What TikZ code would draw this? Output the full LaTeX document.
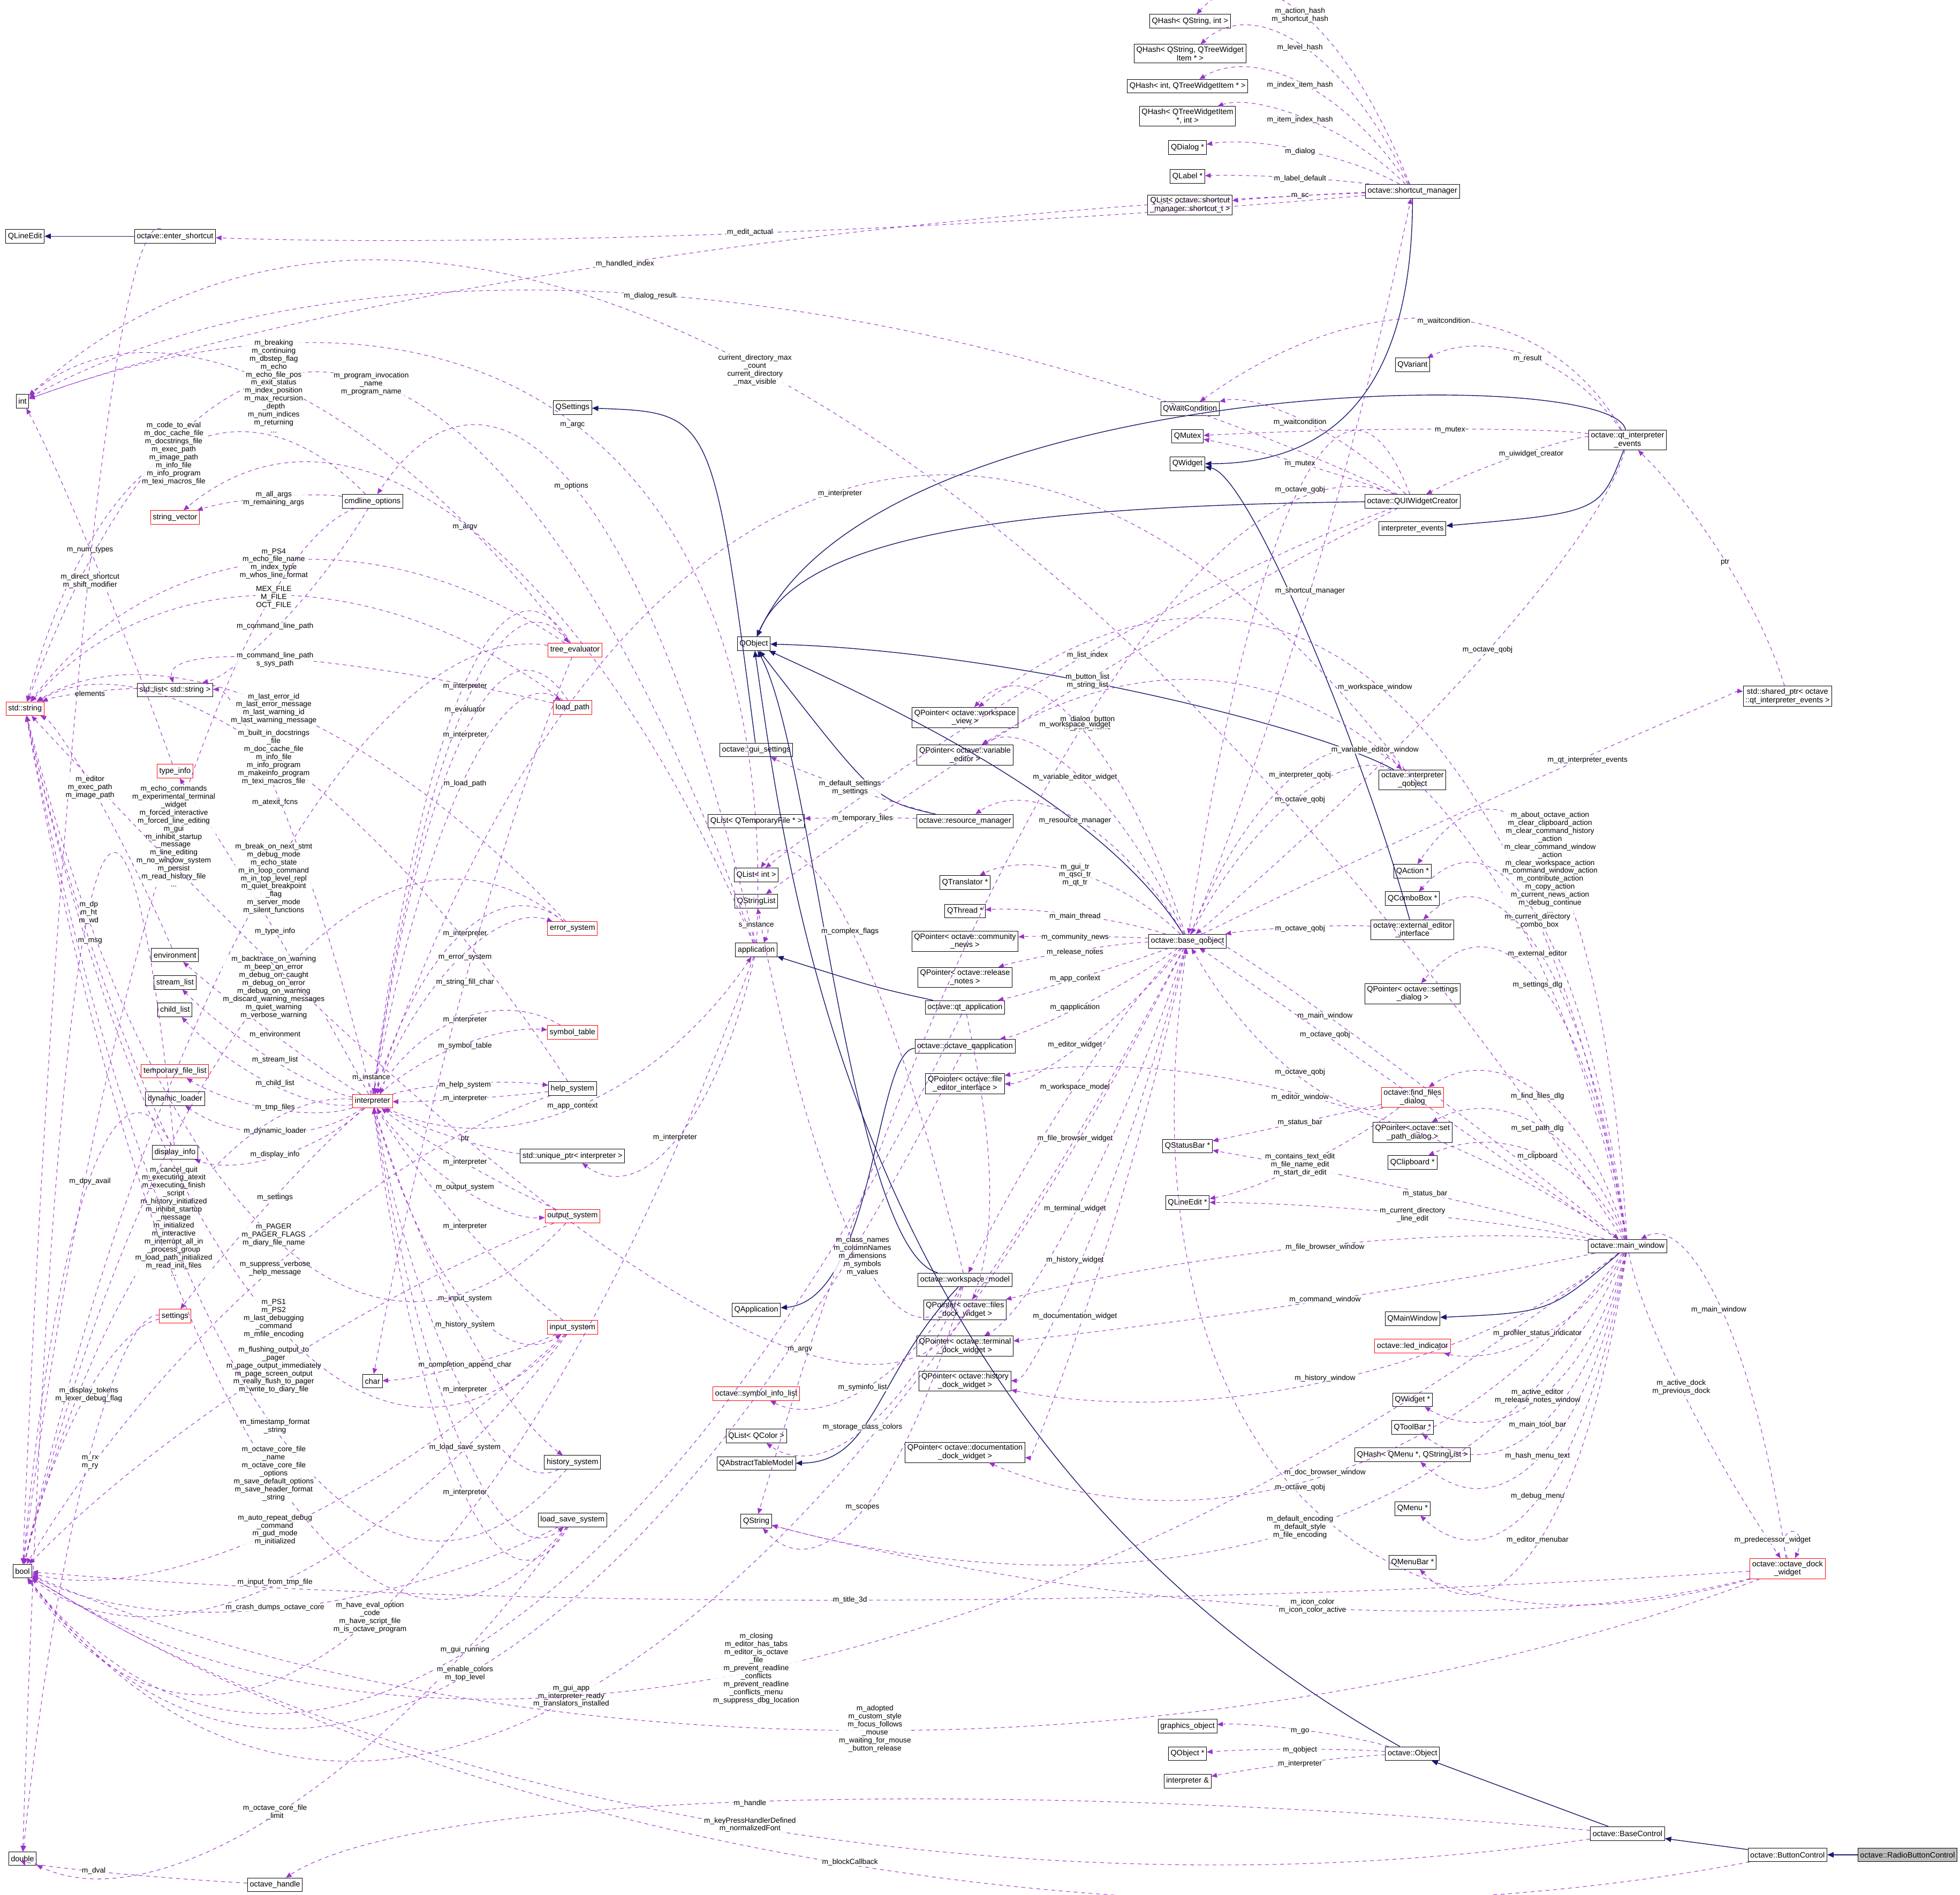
\documentclass[tikz,border=0pt]{standalone}
\usepackage{fontspec}
\setmainfont{Liberation Sans}
\usetikzlibrary{calc,arrows.meta}
\definecolor{navy}{HTML}{191970}
\definecolor{purp}{HTML}{9A32CD}
\tikzset{
 box/.style={draw=black,fill=white,font=\fontsize{6.2}{6.8}\selectfont,inner sep=1.8pt,minimum height=11pt,align=center},
 rbox/.style={box,draw=red},
 lbl/.style={font=\fontsize{5.9}{6.4}\selectfont,align=center,inner sep=0.3pt,fill=white,fill opacity=0.85,text opacity=1},
 dep/.style={draw=purp,dashed,line width=0.45pt,-{Triangle[length=4.5pt,width=3.8pt]},fill=none},
 inh/.style={draw=navy,line width=0.6pt,-{Triangle[length=5pt,width=4.2pt]}}
}
\newcommand\dep[4]{\draw[dep] (#1) .. controls ($1.3333*(#3)+0.0333*(#1)-0.3667*(#2)$) and ($1.3333*(#3)-0.3667*(#1)+0.0333*(#2)$) .. (#2); \node[lbl] at (#3) {#4};}
\begin{document}
\catcode`\_=12
\begin{tikzpicture}[x=1pt,y=-1pt]
\fill[white] (0,0) rectangle (1568,1516);
\useasboundingbox (0,0) rectangle (1568,1516);
% nodes
\node[box] (qhA) at (952,17) {QHash< QString, int >};
\node[box] (qhB) at (952,43) {QHash< QString, QTreeWidget\\Item * >};
\node[box] (qhC) at (950,69) {QHash< int, QTreeWidgetItem * >};
\node[box] (qhD) at (950,93) {QHash< QTreeWidgetItem\\*, int >};
\node[box] (qdlg) at (950,118) {QDialog *};
\node[box] (qlbl) at (950,141) {QLabel *};
\node[box] (qlsc) at (952,164) {QList< octave::shortcut\\_manager::shortcut_t >};
\node[box] (sm) at (1130,153) {octave::shortcut_manager};
\node[box] (qle) at (20,189) {QLineEdit};
\node[box] (es) at (140,189) {octave::enter_shortcut};
\node[box] (int) at (18,321) {int};
\node[box] (qset) at (458,326) {QSettings};
\node[box] (qvar) at (1130,292) {QVariant};
\node[box] (qwc) at (952,327) {QWaitCondition};
\node[box] (qmtx) at (950,349) {QMutex};
\node[box] (qwdg) at (950,371) {QWidget};
\node[box] (qie) at (1302,352) {octave::qt_interpreter\\_events};
\node[box] (quic) at (1130,401) {octave::QUIWidgetCreator};
\node[box] (ie) at (1130,423) {interpreter_events};
\node[box] (cmd) at (298,401) {cmdline_options};
\node[rbox] (sv) at (140,414) {string_vector};
\node[rbox] (te) at (460,520) {tree_evaluator};
\node[box] (qobj) at (603,515) {QObject};
\node[box] (lstr) at (140,552) {std::list< std::string >};
\node[rbox] (lp) at (458,566) {load_path};
\node[rbox] (str) at (20,567) {std::string};
\node[rbox] (ti) at (140,617) {type_info};
\node[box] (pws) at (772,574) {QPointer< octave::workspace\\_view >};
\node[box] (pve) at (772,604) {QPointer< octave::variable\\_editor >};
\node[box] (gs) at (605,600) {octave::gui_settings};
\node[box] (sp) at (1430,557) {std::shared_ptr< octave\\::qt_interpreter_events >};
\node[box] (iq) at (1130,624) {octave::interpreter\\_qobject};
\node[box] (qltf) at (605,657) {QList< QTemporaryFile * >};
\node[box] (rm) at (772,657) {octave::resource_manager};
\node[box] (qli) at (605,700) {QList< int >};
\node[box] (qact) at (1130,697) {QAction *};
\node[box] (qtr) at (772,706) {QTranslator *};
\node[box] (qsl) at (605,721) {QStringList};
\node[box] (qcb) at (1130,719) {QComboBox *};
\node[box] (qth) at (772,729) {QThread *};
\node[box] (eei) at (1130,744) {octave::external_editor\\_interface};
\node[box] (bq) at (950,753) {octave::base_qobject};
\node[box] (pcn) at (772,753) {QPointer< octave::community\\_news >};
\node[box] (app) at (605,760) {application};
\node[rbox] (errs) at (458,743) {error_system};
\node[box] (env) at (140,764) {environment};
\node[box] (prn) at (772,782) {QPointer< octave::release\\_notes >};
\node[box] (qta) at (772,806) {octave::qt_application};
\node[box] (psd) at (1130,795) {QPointer< octave::settings\\_dialog >};
\node[box] (sl) at (140,786) {stream_list};
\node[box] (cl) at (140,808) {child_list};
\node[rbox] (symt) at (458,826) {symbol_table};
\node[box] (oqa) at (772,837) {octave::octave_qapplication};
\node[rbox] (tfl) at (140,857) {temporary_file_list};
\node[box] (hs) at (458,871) {help_system};
\node[rbox] (interp) at (298,881) {interpreter};
\node[box] (pfe) at (772,867) {QPointer< octave::file\\_editor_interface >};
\node[rbox] (ffd) at (1130,878) {octave::find_files\\_dialog};
\node[box] (dl) at (140,879) {dynamic_loader};
\node[box] (pspd) at (1130,906) {QPointer< octave::set\\_path_dialog >};
\node[box] (up) at (458,925) {std::unique_ptr< interpreter >};
\node[box] (di) at (140,922) {display_info};
\node[box] (qcl) at (1130,930) {QClipboard *};
\node[box] (qsb) at (950,917) {QStatusBar *};
\node[rbox] (os) at (458,973) {output_system};
\node[box] (qlep) at (950,962) {QLineEdit *};
\node[box] (mw) at (1302,997) {octave::main_window};
\node[rbox] (sett) at (140,1053) {settings};
\node[box] (qapp) at (605,1048) {QApplication};
\node[box] (wm) at (772,1024) {octave::workspace_model};
\node[box] (pfd) at (772,1048) {QPointer< octave::files\\_dock_widget >};
\node[box] (qmw) at (1130,1055) {QMainWindow};
\node[rbox] (ins) at (458,1062) {input_system};
\node[box] (ptd) at (772,1077) {QPointer< octave::terminal\\_dock_widget >};
\node[rbox] (led) at (1130,1077) {octave::led_indicator};
\node[box] (chr) at (298,1105) {char};
\node[box] (phd) at (772,1105) {QPointer< octave::history\\_dock_widget >};
\node[rbox] (sil) at (605,1115) {octave::symbol_info_list};
\node[box] (qwp) at (1130,1120) {QWidget *};
\node[box] (qlc) at (605,1149) {QList< QColor >};
\node[box] (qtb) at (1130,1142) {QToolBar *};
\node[box] (hsys) at (458,1170) {history_system};
\node[box] (qatm) at (605,1171) {QAbstractTableModel};
\node[box] (qhm) at (1130,1164) {QHash< QMenu *, QStringList >};
\node[box] (pdd) at (772,1162) {QPointer< octave::documentation\\_dock_widget >};
\node[box] (qmenu) at (1130,1207) {QMenu *};
\node[box] (lss) at (458,1216) {load_save_system};
\node[box] (qstr) at (605,1217) {QString};
\node[box] (bool) at (18,1257) {bool};
\node[box] (qmb) at (1130,1250) {QMenuBar *};
\node[rbox] (odw) at (1430,1255) {octave::octave_dock\\_widget};
\node[box] (gobj) at (950,1381) {graphics_object};
\node[box] (qobjp) at (950,1403) {QObject *};
\node[box] (obj) at (1130,1403) {octave::Object};
\node[box] (iref) at (950,1425) {interpreter \&};
\node[box] (bc) at (1302,1467) {octave::BaseControl};
\node[box] (dbl) at (18,1487) {double};
\node[box] (btc) at (1430,1484) {octave::ButtonControl};
\node[box,fill=black!25] (rbc) at (1526,1484) {octave::RadioButtonControl};
\node[box] (oh) at (220,1508) {octave_handle};
% inheritance
\draw[inh] (es) -- (qle);
\draw[inh] (sm) .. controls (1130,330) and (1050,371) .. (qwdg);
\draw[inh] (qie) .. controls (1290,290) and (700,300) .. (qobj);
\draw[inh] (qie) .. controls (1280,410) .. (ie);
\draw[inh] (quic) .. controls (800,405) and (640,430) .. (qobj);
\draw[inh] (gs) .. controls (570,330) .. (qset);
\draw[inh] (rm) .. controls (700,640) .. (qobj);
\draw[inh] (bq) .. controls (880,640) and (700,560) .. (qobj);
\draw[inh] (eei) .. controls (1090,600) and (1000,380) .. (qwdg);
\draw[inh] (iq) .. controls (1050,580) and (800,520) .. (qobj);
\draw[inh] (qta) .. controls (700,790) .. (app);
\draw[inh] (oqa) .. controls (700,840) and (700,1040) .. (qapp);
\draw[inh] (wm) .. controls (680,1000) and (650,600) .. (qobj);
\draw[inh] (wm) .. controls (700,1100) and (700,1170) .. (qatm);
\draw[inh] (mw) .. controls (1240,1050) .. (qmw);
\draw[inh] (obj) .. controls (680,1150) and (630,700) .. (qobj);
\draw[inh] (bc) -- (obj);
\draw[inh] (btc) -- (bc);
\draw[inh] (rbc) -- (btc);
% shortcut_manager
\dep{sm}{qhA}{1040,12}{m_action_hash\\m_shortcut_hash}
\dep{sm}{qhB}{1040,38}{m_level_hash}
\dep{sm}{qhC}{1040,68}{m_index_item_hash}
\dep{sm}{qhD}{1040,96}{m_item_index_hash}
\dep{sm}{qdlg}{1040,121}{m_dialog}
\dep{sm}{qlbl}{1040,143}{m_label_default}
\dep{sm}{qlsc}{1040,157}{m_sc}
\dep{sm}{es}{600,186}{m_edit_actual}
\dep{sm}{int}{500,211}{m_handled_index}
% QUIWidgetCreator, qt_interpreter_events
\dep{quic}{int}{520,237}{m_dialog_result}
\dep{quic}{qwc}{1040,338}{m_waitcondition}
\dep{quic}{qmtx}{1040,371}{m_mutex}
\dep{quic}{bq}{1040,392}{m_octave_qobj}
\dep{quic}{qli}{870,524}{m_list_index}
\dep{quic}{qsl}{870,545}{m_button_list\\m_string_list}
\dep{quic}{qstr}{870,579}{m_dialog_button\\m_path_name}
\dep{qie}{qwc}{1155,257}{m_waitcondition}
\dep{qie}{qvar}{1222,287}{m_result}
\dep{qie}{qmtx}{1160,344}{m_mutex}
\dep{qie}{quic}{1225,363}{m_uiwidget_creator}
\dep{qie}{bq}{1190,520}{m_octave_qobj}
\dep{sp}{qie}{1380,450}{ptr}
\dep{bq}{sp}{1270,608}{m_qt_interpreter_events}
\dep{bq}{sm}{1048,473}{m_shortcut_manager}
% interpreter_qobject
\dep{iq}{bq}{1040,640}{m_octave_qobj}
\dep{bq}{iq}{1040,620}{m_interpreter_qobj}
\dep{iq}{interp}{672,395}{m_interpreter}
% base_qobject
\dep{bq}{pws}{860,580}{m_workspace_widget}
\dep{bq}{pve}{860,622}{m_variable_editor_widget}
\dep{bq}{rm}{860,657}{m_resource_manager}
\dep{bq}{qtr}{860,700}{m_gui_tr\\m_qsci_tr\\m_qt_tr}
\dep{bq}{qth}{860,733}{m_main_thread}
\dep{bq}{pcn}{860,750}{m_community_news}
\dep{bq}{prn}{860,762}{m_release_notes}
\dep{bq}{qta}{860,783}{m_app_context}
\dep{bq}{oqa}{860,806}{m_qapplication}
\dep{bq}{pfe}{860,836}{m_editor_widget}
\dep{bq}{wm}{860,870}{m_workspace_model}
\dep{bq}{pfd}{860,911}{m_file_browser_widget}
\dep{bq}{ptd}{860,967}{m_terminal_widget}
\dep{bq}{phd}{860,1008}{m_history_widget}
\dep{bq}{pdd}{860,1053}{m_documentation_widget}
\dep{bq}{mw}{1060,813}{m_main_window}
\dep{mw}{bq}{1060,828}{m_octave_qobj}
\dep{eei}{bq}{1040,743}{m_octave_qobj}
\dep{ffd}{bq}{1040,858}{m_octave_qobj}
\dep{odw}{bq}{1040,1190}{m_octave_qobj}
\dep{bq}{bool}{457,1357}{m_gui_app\\m_interpreter_ready\\m_translators_installed}
% resource_manager, workspace_model
\dep{rm}{gs}{680,630}{m_default_settings\\m_settings}
\dep{rm}{qltf}{690,655}{m_temporary_files}
\dep{wm}{qli}{680,745}{m_complex_flags}
\dep{wm}{qsl}{690,1005}{m_class_names\\m_columnNames\\m_dimensions\\m_symbols\\m_values}
\dep{wm}{sil}{690,1110}{m_syminfo_list}
\dep{wm}{qlc}{690,1142}{m_storage_class_colors}
\dep{wm}{qstr}{690,1206}{m_scopes}
% main_window
\dep{mw}{pws}{1100,550}{m_workspace_window}
\dep{mw}{pve}{1100,600}{m_variable_editor_window}
\dep{mw}{qact}{1240,690}{m_about_octave_action\\m_clear_clipboard_action\\m_clear_command_history\\_action\\m_clear_command_window\\_action\\m_clear_workspace_action\\m_command_window_action\\m_contribute_action\\m_copy_action\\m_current_news_action\\m_debug_continue\\...}
\dep{mw}{qcb}{1230,737}{m_current_directory\\_combo_box}
\dep{mw}{eei}{1230,763}{m_external_editor}
\dep{mw}{psd}{1230,788}{m_settings_dlg}
\dep{mw}{ffd}{1230,877}{m_find_files_dlg}
\dep{mw}{pspd}{1230,903}{m_set_path_dlg}
\dep{mw}{qcl}{1230,925}{m_clipboard}
\dep{mw}{qsb}{1140,955}{m_status_bar}
\dep{mw}{qlep}{1130,972}{m_current_directory\\_line_edit}
\dep{mw}{pfd}{1060,998}{m_file_browser_window}
\dep{mw}{ptd}{1060,1040}{m_command_window}
\dep{mw}{led}{1230,1067}{m_profiler_status_indicator}
\dep{mw}{phd}{1060,1103}{m_history_window}
\dep{mw}{qwp}{1230,1117}{m_active_editor\\m_release_notes_window}
\dep{mw}{qtb}{1230,1140}{m_main_tool_bar}
\dep{mw}{qhm}{1230,1165}{m_hash_menu_text}
\dep{mw}{pdd}{1060,1178}{m_doc_browser_window}
\dep{mw}{qmenu}{1230,1197}{m_debug_menu}
\dep{mw}{qstr}{1040,1222}{m_default_encoding\\m_default_style\\m_file_encoding}
\dep{mw}{qmb}{1230,1232}{m_editor_menubar}
\dep{mw}{pfe}{1040,878}{m_editor_window}
\dep{mw}{int}{604,296}{current_directory_max\\_count\\current_directory\\_max_visible}
\dep{mw}{bool}{605,1335}{m_closing\\m_editor_has_tabs\\m_editor_is_octave\\_file\\m_prevent_readline\\_conflicts\\m_prevent_readline\\_conflicts_menu\\m_suppress_dbg_location}
\dep{mw}{odw}{1345,1110}{m_active_dock\\m_previous_dock}
\dep{ffd}{qsb}{1040,898}{m_status_bar}
\dep{ffd}{qlep}{1040,932}{m_contains_text_edit\\m_file_name_edit\\m_start_dir_edit}
\dep{odw}{mw}{1375,1048}{m_main_window}
\draw[dep] (odw.north) .. controls +(-12,-28) and +(12,-28) .. ([xshift=6pt]odw.north);
\node[lbl] at (1418,1232) {m_predecessor_widget};
\dep{odw}{qstr}{1050,1285}{m_icon_color\\m_icon_color_active}
\dep{odw}{bool}{680,1280}{m_title_3d}
\dep{odw}{bool}{700,1383}{m_adopted\\m_custom_style\\m_focus_follows\\_mouse\\m_waiting_for_mouse\\_button_release}
% Object, controls
\dep{obj}{gobj}{1040,1385}{m_go}
\dep{obj}{qobjp}{1040,1400}{m_qobject}
\dep{obj}{iref}{1040,1411}{m_interpreter}
\dep{bc}{oh}{600,1443}{m_handle}
\dep{bc}{bool}{600,1460}{m_keyPressHandlerDefined\\m_normalizedFont}
\dep{btc}{bool}{680,1490}{m_blockCallback}
\dep{oh}{dbl}{75,1497}{m_dval}
% interpreter subsystems
\dep{te}{interp}{372,549}{m_interpreter}
\dep{interp}{te}{372,568}{m_evaluator}
\dep{lp}{interp}{372,588}{m_interpreter}
\dep{interp}{lp}{372,627}{m_load_path}
\dep{errs}{interp}{372,747}{m_interpreter}
\dep{interp}{errs}{372,766}{m_error_system}
\dep{te}{chr}{372,786}{m_string_fill_char}
\dep{symt}{interp}{372,816}{m_interpreter}
\dep{interp}{symt}{372,837}{m_symbol_table}
\dep{interp}{hs}{372,868}{m_help_system}
\dep{hs}{interp}{372,879}{m_interpreter}
\dep{up}{interp}{372,911}{ptr}
\dep{os}{interp}{372,930}{m_interpreter}
\dep{interp}{os}{372,950}{m_output_system}
\dep{ins}{interp}{372,981}{m_interpreter}
\dep{interp}{ins}{372,1039}{m_input_system}
\dep{interp}{hsys}{372,1060}{m_history_system}
\dep{ins}{chr}{372,1092}{m_completion_append_char}
\dep{hsys}{interp}{372,1112}{m_interpreter}
\dep{interp}{lss}{372,1158}{m_load_save_system}
\dep{lss}{interp}{372,1194}{m_interpreter}
\dep{app}{cmd}{457,389}{m_options}
\dep{app}{sv}{372,422}{m_argv}
\dep{app}{int}{458,340}{m_argc}
\dep{app}{str}{297,307}{m_program_invocation\\_name\\m_program_name}
\dep{app}{up}{540,910}{m_interpreter}
\dep{interp}{app}{458,885}{m_app_context}
\dep{app}{bool}{296,1294}{m_have_eval_option\\_code\\m_have_script_file\\m_is_octave_program}
\draw[dep] (app.north) .. controls +(-10,-22) and +(10,-22) .. ([xshift=6pt]app.north);
\node[lbl] at (605,740) {s_instance};
\draw[dep] (interp.north) .. controls +(-10,-22) and +(10,-22) .. ([xshift=6pt]interp.north);
\node[lbl] at (297,862) {m_instance};
\dep{interp}{env}{220,828}{m_environment}
\dep{interp}{sl}{220,848}{m_stream_list}
\dep{interp}{cl}{220,867}{m_child_list}
\dep{interp}{tfl}{220,886}{m_tmp_files}
\dep{interp}{dl}{220,905}{m_dynamic_loader}
\dep{interp}{di}{220,924}{m_display_info}
\dep{interp}{sett}{220,958}{m_settings}
\dep{interp}{lstr}{220,642}{m_atexit_fcns}
\dep{interp}{ti}{220,745}{m_type_info}
\dep{interp}{bool}{139,977}{m_cancel_quit\\m_executing_atexit\\m_executing_finish\\_script\\m_history_initialized\\m_inhibit_startup\\_message\\m_initialized\\m_interactive\\m_interrupt_all_in\\_process_group\\m_load_path_initialized\\m_read_init_files\\...}
\dep{te}{int}{219,309}{m_breaking\\m_continuing\\m_dbstep_flag\\m_echo\\m_echo_file_pos\\m_exit_status\\m_index_position\\m_max_recursion\\_depth\\m_num_indices\\m_returning\\...}
\dep{te}{str}{219,451}{m_PS4\\m_echo_file_name\\m_index_type\\m_whos_line_format}
\dep{te}{bool}{219,703}{m_break_on_next_stmt\\m_debug_mode\\m_echo_state\\m_in_loop_command\\m_in_top_level_repl\\m_quiet_breakpoint\\_flag\\m_server_mode\\m_silent_functions}
\dep{cmd}{sv}{219,399}{m_all_args\\m_remaining_args}
\dep{cmd}{str}{139,363}{m_code_to_eval\\m_doc_cache_file\\m_docstrings_file\\m_exec_path\\m_image_path\\m_info_file\\m_info_program\\m_texi_macros_file}
\dep{cmd}{lstr}{220,501}{m_command_line_path}
\dep{cmd}{bool}{139,669}{m_echo_commands\\m_experimental_terminal\\_widget\\m_forced_interactive\\m_forced_line_editing\\m_gui\\m_inhibit_startup\\_message\\m_line_editing\\m_no_window_system\\m_persist\\m_read_history_file\\...}
\dep{lp}{str}{219,478}{MEX_FILE\\M_FILE\\OCT_FILE}
\dep{lp}{lstr}{220,528}{m_command_line_path\\s_sys_path}
\dep{errs}{str}{219,567}{m_last_error_id\\m_last_error_message\\m_last_warning_id\\m_last_warning_message}
\dep{errs}{bool}{219,790}{m_backtrace_on_warning\\m_beep_on_error\\m_debug_on_caught\\m_debug_on_error\\m_debug_on_warning\\m_discard_warning_messages\\m_quiet_warning\\m_verbose_warning}
\dep{hs}{str}{219,606}{m_built_in_docstrings\\_file\\m_doc_cache_file\\m_info_file\\m_info_program\\m_makeinfo_program\\m_texi_macros_file}
\dep{hs}{bool}{220,1015}{m_suppress_verbose\\_help_message}
\dep{os}{str}{219,988}{m_PAGER\\m_PAGER_FLAGS\\m_diary_file_name}
\dep{os}{bool}{219,1096}{m_flushing_output_to\\_pager\\m_page_output_immediately\\m_page_screen_output\\m_really_flush_to_pager\\m_write_to_diary_file}
\dep{ins}{str}{219,1055}{m_PS1\\m_PS2\\m_last_debugging\\_command\\m_mfile_encoding}
\dep{ins}{bool}{220,1224}{m_auto_repeat_debug\\_command\\m_gud_mode\\m_initialized}
\dep{ins}{bool}{220,1266}{m_input_from_tmp_file}
\dep{hsys}{str}{220,1141}{m_timestamp_format\\_string}
\dep{lss}{str}{219,1179}{m_octave_core_file\\_name\\m_octave_core_file\\_options\\m_save_default_options\\m_save_header_format\\_string}
\dep{lss}{bool}{220,1286}{m_crash_dumps_octave_core}
\dep{lss}{dbl}{220,1450}{m_octave_core_file\\_limit}
\dep{qta}{bool}{372,1320}{m_gui_running}
\dep{oqa}{bool}{372,1339}{m_enable_colors\\m_top_level}
\dep{qta}{str}{640,1080}{m_argv}
\dep{lstr}{str}{72,555}{elements}
\dep{ti}{int}{72,440}{m_num_types}
\dep{es}{bool}{72,465}{m_direct_shortcut\\m_shift_modifier}
\dep{env}{str}{72,630}{m_editor\\m_exec_path\\m_image_path}
\dep{di}{dbl}{71,730}{m_dp\\m_ht\\m_wd}
\dep{di}{str}{72,753}{m_msg}
\dep{di}{bool}{72,945}{m_dpy_avail}
\dep{sett}{bool}{71,1116}{m_display_tokens\\m_lexer_debug_flag}
\dep{sett}{dbl}{72,1170}{m_rx\\m_ry}
\end{tikzpicture}
\end{document}
